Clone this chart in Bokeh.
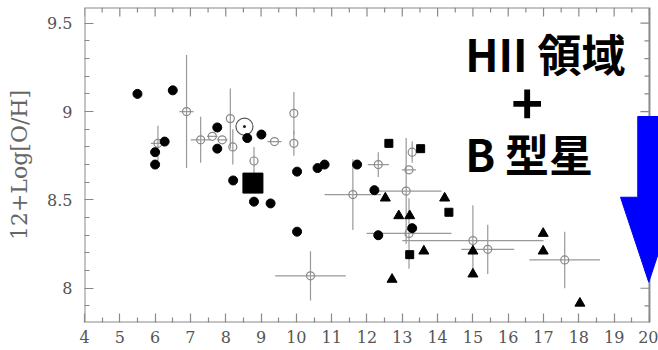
import math
import numpy as np
from bokeh.plotting import figure
from bokeh.models import FixedTicker, CustomJSTickFormatter, Label, Range1d
from bokeh.embed import file_html
from bokeh.resources import INLINE

# ---------------- data ----------------
# filled circles
hii_x = [5.5, 6.5, 6.0, 6.0, 6.27, 7.76, 7.76, 8.61, 9.01, 8.21, 8.8, 9.27,
         10.02, 10.6, 10.8, 10.02, 11.72, 12.21, 13.28, 12.32]
hii_y = [9.10, 9.12, 8.77, 8.70, 8.83, 8.91, 8.79, 8.85, 8.87, 8.61, 8.49, 8.48,
         8.66, 8.68, 8.70, 8.32, 8.70, 8.555, 8.34, 8.30]

# open circles with error bars
open_x = [6.08, 6.89, 7.29, 7.62, 7.9, 8.13, 8.2, 8.8, 9.38, 9.93, 9.93, 10.4,
          11.6, 12.32, 13.28, 13.19, 13.11, 13.19, 15.0, 15.42, 17.6]
open_y = [8.82, 9.00, 8.84, 8.86, 8.84, 8.96, 8.80, 8.72, 8.83, 8.99, 8.82, 8.07,
          8.53, 8.70, 8.77, 8.67, 8.55, 8.31, 8.27, 8.22, 8.16]
open_xerr = [0.2, 0.2, 0.28, 0.15, 0.15, 0.0, 0.0, 0.0, 0.2, 0.0, 0.0, 1.0,
             0.8, 0.3, 0.0, 0.2, 1.0, 1.2, 2.0, 0.75, 1.0]
open_yerr = [0.1, 0.32, 0.13, 0.0, 0.0, 0.17, 0.1, 0.08, 0.0, 0.12, 0.07, 0.14,
             0.2, 0.07, 0.06, 0.0, 0.3, 0.2, 0.2, 0.14, 0.16]

# small filled squares
sq_x = [12.62, 13.52, 14.32, 13.21]
sq_y = [8.82, 8.79, 8.43, 8.19]

# big filled square
big_x = [8.77]
big_y = [8.595]

# filled triangles
tri_x = [12.52, 14.2, 12.9, 13.21, 13.61, 12.71, 15.0, 15.0, 16.99, 16.99, 18.03]
tri_y = [8.51, 8.51, 8.41, 8.41, 8.21, 8.05, 8.21, 8.08, 8.31, 8.21, 7.915]

# sun symbol
sun_x = [8.53]
sun_y = [8.915]

# ticks
x_major = list(range(4, 21))
x_minor = [v + 0.5 for v in range(4, 20)]
y_major = [8.0, 8.5, 9.0, 9.5]
y_minor = [round(v, 1) for v in np.arange(7.9, 9.59, 0.1) if round(v * 10) % 5 != 0]

y_label = "12+Log[O/H]"
title_lines = ["HII 領域", "+", "B 型星"]

# ---------------- figure ----------------
X0, X1 = 4.0, 20.256
Y0, Y1 = 7.806, 9.589
XF = 20.0  # right frame line of the panel

p = figure(width=658, height=350, output_backend="svg", toolbar_location=None,
           x_range=Range1d(X0, X1), y_range=Range1d(Y0, Y1),
           min_border_left=84, min_border_right=0, min_border_top=7,
           min_border_bottom=28, outline_line_color=None,
           background_fill_color="white", border_fill_color="white")
p.grid.visible = False

GRAY = "#8a8a8a"
LBL = "#555555"

for ax in (p.xaxis, p.yaxis):
    ax.axis_line_color = None
    ax.major_tick_in = 9
    ax.major_tick_out = 0
    ax.minor_tick_in = 5
    ax.minor_tick_out = 0
    ax.major_tick_line_color = GRAY
    ax.minor_tick_line_color = GRAY
    ax.major_tick_line_width = 1.2
    ax.minor_tick_line_width = 1.2
    ax.major_label_text_font = "DejaVu Serif"
    ax.major_label_text_font_size = "16px"
    ax.major_label_text_color = LBL

p.xaxis.ticker = FixedTicker(ticks=x_major, minor_ticks=x_minor)
p.yaxis.ticker = FixedTicker(ticks=y_major, minor_ticks=y_minor)
p.yaxis.formatter = CustomJSTickFormatter(code="return tick.toString();")
p.xaxis.formatter = CustomJSTickFormatter(code="return tick.toString();")
p.xaxis.major_label_standoff = 8
p.yaxis.major_label_standoff = 12
p.yaxis.axis_label = y_label
p.yaxis.axis_label_text_font = "DejaVu Serif"
p.yaxis.axis_label_text_font_size = "22px"
p.yaxis.axis_label_text_font_style = "normal"
p.yaxis.axis_label_text_color = "#666666"
p.yaxis.axis_label_standoff = 12

# frame box
p.quad(left=[X0], right=[XF], bottom=[Y0], top=[Y1], fill_color=None,
       line_color=GRAY, line_width=2)

# top and right inward ticks
p.ray(x=x_major, y=[Y1] * len(x_major), length=9, length_units="screen",
      angle=-math.pi / 2, line_color=GRAY, line_width=1.2)
p.ray(x=x_minor, y=[Y1] * len(x_minor), length=5, length_units="screen",
      angle=-math.pi / 2, line_color=GRAY, line_width=1.2)
p.ray(x=[XF] * len(y_major), y=y_major, length=9, length_units="screen",
      angle=math.pi, line_color=GRAY, line_width=1.2)
p.ray(x=[XF] * len(y_minor), y=y_minor, length=5, length_units="screen",
      angle=math.pi, line_color=GRAY, line_width=1.2)

# error bars
ox = np.array(open_x); oy = np.array(open_y)
oxe = np.array(open_xerr); oye = np.array(open_yerr)
p.segment(x0=ox - oxe, y0=oy, x1=ox + oxe, y1=oy, line_color="#999999", line_width=1.2)
p.segment(x0=ox, y0=oy - oye, x1=ox, y1=oy + oye, line_color="#999999", line_width=1.2)
p.scatter(open_x, open_y, marker="circle", size=8, fill_color=None,
          line_color="#888888", line_width=1.2)

# sun symbol
p.scatter(sun_x, sun_y, marker="circle", size=17, fill_color=None,
          line_color="#555555", line_width=1.2)
p.scatter(sun_x, sun_y, marker="circle", size=3, fill_color="#222222", line_color=None)

# filled symbols
p.scatter(hii_x, hii_y, marker="circle", size=9, fill_color="black", line_color="black")
p.scatter(sq_x, sq_y, marker="square", size=8, fill_color="black", line_color="black")
p.scatter(big_x, big_y, marker="square", size=20, fill_color="black", line_color="black")
p.scatter(tri_x, tri_y, marker="triangle", size=10, fill_color="black", line_color="black")

# overlay text
p.add_layout(Label(x=14.78, y=9.331, text=title_lines[0], text_font="Noto Sans CJK JP",
                   text_font_style="bold", text_font_size="44px", text_color="black",
                   text_align="left", text_baseline="middle"))
p.add_layout(Label(x=16.537, y=9.044, text=title_lines[1], text_font="Noto Sans CJK JP",
                   text_font_style="bold", text_font_size="54px", text_color="black",
                   text_align="center", text_baseline="middle"))
p.add_layout(Label(x=14.78, y=8.765, text=title_lines[2], text_font="Noto Sans CJK JP",
                   text_font_style="bold", text_font_size="44px", text_color="black",
                   text_align="left", text_baseline="middle"))

# blue arrow
ac = 19.98
sw, hw = 0.3115, 0.80
y_top, y_base, y_tip = 8.972, 8.515, 8.034
p.patch(x=[ac - sw, ac + sw, ac + sw, ac + hw, ac, ac - hw, ac - sw],
        y=[y_top, y_top, y_base, y_base, y_tip, y_base, y_base],
        fill_color="#0000ff", line_color="#0000ff")

open("out.html", "w", encoding="utf-8").write(file_html(p, INLINE))
